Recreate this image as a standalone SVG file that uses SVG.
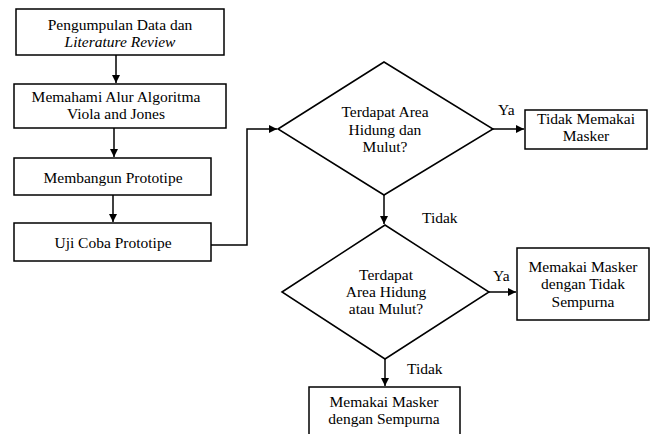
<svg xmlns="http://www.w3.org/2000/svg" width="652" height="434" viewBox="0 0 652 434">
<style>
.box{fill:#fff;stroke:#000;stroke-width:1.5}
.t{font-family:"Liberation Serif","Times New Roman",serif;font-size:15.5px;fill:#000;text-anchor:middle}
.l{font-family:"Liberation Serif","Times New Roman",serif;font-size:15.5px;fill:#000}
.c{fill:none;stroke:#000;stroke-width:1.5}
</style>
<defs>
<marker id="ah" viewBox="0 0 10 10" refX="10" refY="5" markerWidth="8" markerHeight="8" markerUnits="userSpaceOnUse" orient="auto">
<path d="M0,0 L10,5 L0,10 Z" fill="#000"/>
</marker>
</defs>
<rect width="652" height="434" fill="#fff"/>
<g id="connectors">
<path class="c" d="M116,55 V83" marker-end="url(#ah)"/>
<path class="c" d="M114,128 V157" marker-end="url(#ah)"/>
<path class="c" d="M113,195 V222" marker-end="url(#ah)"/>
<path class="c" d="M211,245 H247 V129 H277" stroke="#444" marker-end="url(#ah)"/>
<path class="c" d="M493,129 H524" marker-end="url(#ah)"/>
<path class="c" d="M384,195 V224" marker-end="url(#ah)"/>
<path class="c" d="M489,292 H516" marker-end="url(#ah)"/>
<path class="c" d="M385,359 V386" marker-end="url(#ah)"/>
<text class="l" x="498" y="115">Ya</text>
<text class="l" x="422" y="223">Tidak</text>
<text class="l" x="493" y="281">Ya</text>
<text class="l" x="407" y="374">Tidak</text>
</g>
<g id="n1">
<rect class="box" x="16" y="9" width="208" height="46"/>
<text class="t" x="120" y="30">Pengumpulan Data dan</text>
<text class="t" x="120" y="47" font-style="italic">Literature Review</text>
</g>
<g id="n2">
<rect class="box" x="14" y="84" width="212" height="44"/>
<text class="t" x="116" y="102">Memahami Alur Algoritma</text>
<text class="t" x="116" y="119">Viola and Jones</text>
</g>
<g id="n3">
<rect class="box" x="14" y="158" width="197" height="37"/>
<text class="t" x="113" y="183">Membangun Prototipe</text>
</g>
<g id="n4">
<rect class="box" x="14" y="223" width="197" height="38"/>
<text class="t" x="113" y="248">Uji Coba Prototipe</text>
</g>
<g id="d1">
<polygon class="box" points="278,129 384,62 493,129 384,195"/>
<text class="t" x="385" y="117">Terdapat Area</text>
<text class="t" x="385" y="135">Hidung dan</text>
<text class="t" x="385" y="152">Mulut?</text>
</g>
<g id="n5">
<rect class="box" x="525" y="110" width="122" height="39"/>
<text class="t" x="586" y="124">Tidak Memakai</text>
<text class="t" x="586" y="141">Masker</text>
</g>
<g id="d2">
<polygon class="box" points="282,292 385,225 489,292 385,359"/>
<text class="t" x="386" y="280">Terdapat</text>
<text class="t" x="386" y="297">Area Hidung</text>
<text class="t" x="386" y="314">atau Mulut?</text>
</g>
<g id="n6">
<rect class="box" x="517" y="248" width="132" height="72"/>
<text class="t" x="583" y="272">Memakai Masker</text>
<text class="t" x="583" y="289">dengan Tidak</text>
<text class="t" x="583" y="307">Sempurna</text>
</g>
<g id="n7">
<rect class="box" x="309" y="387" width="151" height="60"/>
<text class="t" x="384" y="407">Memakai Masker</text>
<text class="t" x="384" y="424">dengan Sempurna</text>
</g>
</svg>
